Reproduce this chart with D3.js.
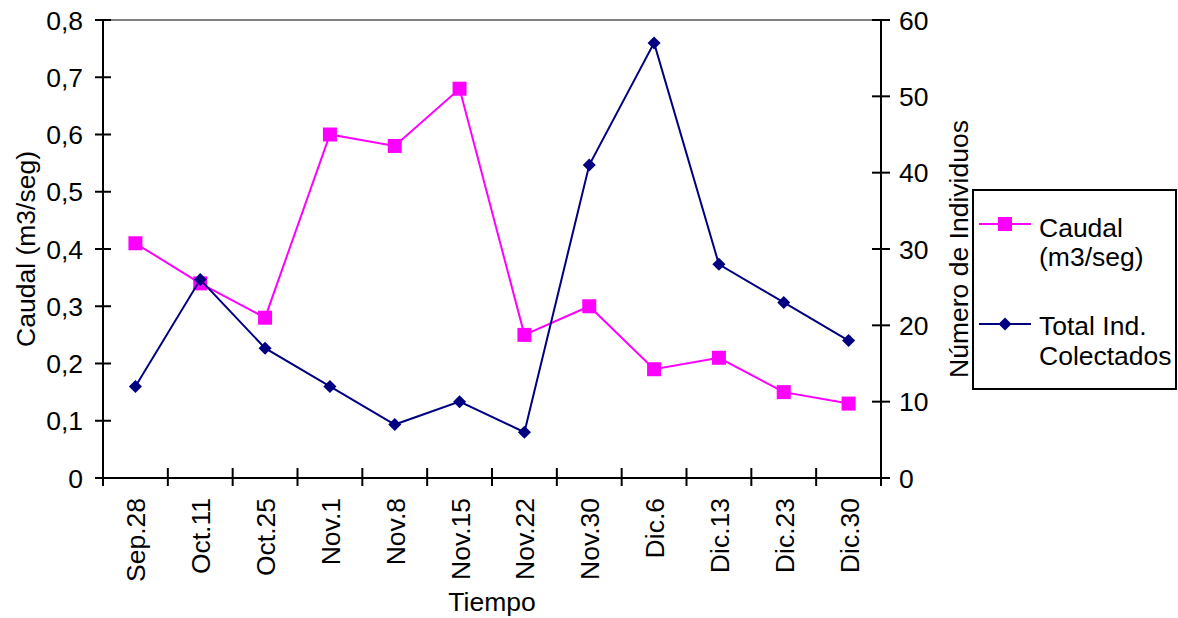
<!DOCTYPE html>
<html><head><meta charset="utf-8">
<script src="https://cdn.jsdelivr.net/npm/d3@7"></script>
<style>body{margin:0;background:#fff}svg{display:block;font-family:"Liberation Sans",Arial,sans-serif}</style>
</head><body>
<svg id="c" width="1178" height="618"></svg>
<script>
const categories = ["Sep.28","Oct.11","Oct.25","Nov.1","Nov.8","Nov.15","Nov.22","Nov.30","Dic.6","Dic.13","Dic.23","Dic.30"];
const caudal = [0.41,0.34,0.28,0.60,0.58,0.68,0.25,0.30,0.19,0.21,0.15,0.13];
const totalInd = [12,26,17,12,7,10,6,41,57,28,23,18];
const leftTicks = [0,0.1,0.2,0.3,0.4,0.5,0.6,0.7,0.8];
const rightTicks = [0,10,20,30,40,50,60];

const FS = 26.5;
const svg = d3.select("#c");
const L = 103, R = 881, T = 20, B = 478;
const x = d3.scaleBand().domain(categories).range([L, R]);
const yL = d3.scaleLinear().domain([0, 0.8]).range([B, T]);
const yR = d3.scaleLinear().domain([0, 60]).range([B, T]);
const fmt = d => d === 0 ? "0" : d3.format(".1f")(d).replace(".", ",");

// top border
svg.append("line").attr("x1", L).attr("x2", R).attr("y1", T).attr("y2", T).attr("stroke", "#808080").attr("stroke-width", 2);

// left axis
const gl = svg.append("g").attr("transform", `translate(${L},0)`);
gl.append("line").attr("y1", T).attr("y2", B).attr("stroke", "#000").attr("stroke-width", 2);
gl.selectAll(".t").data(leftTicks).join("line").attr("x1", -8).attr("x2", 8)
  .attr("y1", d => yL(d)).attr("y2", d => yL(d)).attr("stroke", "#000").attr("stroke-width", 2);
gl.selectAll("text").data(leftTicks).join("text").attr("x", -20).attr("y", d => yL(d)).attr("dy", "0.36em")
  .attr("text-anchor", "end").attr("font-size", FS).text(fmt);

// right axis
const gr = svg.append("g").attr("transform", `translate(${R},0)`);
gr.append("line").attr("y1", T).attr("y2", B).attr("stroke", "#000").attr("stroke-width", 2);
gr.selectAll(".t").data(rightTicks).join("line").attr("x1", -9).attr("x2", 9)
  .attr("y1", d => yR(d)).attr("y2", d => yR(d)).attr("stroke", "#000").attr("stroke-width", 2);
gr.selectAll("text").data(rightTicks).join("text").attr("x", 18).attr("y", d => yR(d)).attr("dy", "0.36em")
  .attr("text-anchor", "start").attr("font-size", FS).text(d => d);

// x axis
const gx = svg.append("g");
gx.append("line").attr("x1", L).attr("x2", R).attr("y1", B).attr("y2", B).attr("stroke", "#000").attr("stroke-width", 2);
const edges = categories.map(c => x(c)).concat([R]);
gx.selectAll(".t").data(edges).join("line").attr("x1", d => d).attr("x2", d => d)
  .attr("y1", B - 10).attr("y2", B + 8).attr("stroke", "#000").attr("stroke-width", 2);
gx.selectAll("text").data(categories).join("text")
  .attr("transform", d => `translate(${x(d) + x.bandwidth()/2 + 10},${B + 20}) rotate(-90)`)
  .attr("text-anchor", "end").attr("font-size", FS).text(d => d);

// axis titles
svg.append("text").attr("transform", `translate(35,${(T+B)/2}) rotate(-90)`).attr("text-anchor", "middle")
  .attr("font-size", FS).text("Caudal (m3/seg)");
svg.append("text").attr("transform", `translate(968,${(T+B)/2}) rotate(-90)`).attr("text-anchor", "middle")
  .attr("font-size", FS).text("Número de Individuos");
svg.append("text").attr("x", (L+R)/2).attr("y", 611).attr("text-anchor", "middle").attr("font-size", FS).text("Tiempo");

const cx = (d, i) => x(categories[i]) + x.bandwidth()/2;
// caudal series
svg.append("path").datum(caudal).attr("fill", "none").attr("stroke", "#FF00FF").attr("stroke-width", 2)
  .attr("d", d3.line().x((d,i) => cx(d,i)).y(d => yL(d)));
svg.selectAll(".sq").data(caudal).join("rect").attr("x", (d,i) => cx(d,i) - 7).attr("y", d => yL(d) - 7)
  .attr("width", 14).attr("height", 14).attr("fill", "#FF00FF");
// total series
svg.append("path").datum(totalInd).attr("fill", "none").attr("stroke", "#000080").attr("stroke-width", 2)
  .attr("d", d3.line().x((d,i) => cx(d,i)).y(d => yR(d)));
svg.selectAll(".di").data(totalInd).join("path").attr("transform", (d,i) => `translate(${cx(d,i)},${yR(d)}) rotate(45)`)
  .attr("d", d3.symbol().type(d3.symbolSquare).size(85)).attr("fill", "#000080");

// legend
const lg = svg.append("g");
lg.append("rect").attr("x", 973).attr("y", 190).attr("width", 203).attr("height", 199)
  .attr("fill", "#fff").attr("stroke", "#000").attr("stroke-width", 2);
lg.append("line").attr("x1", 979).attr("x2", 1031).attr("y1", 224).attr("y2", 224).attr("stroke", "#FF00FF").attr("stroke-width", 2);
lg.append("rect").attr("x", 998).attr("y", 217).attr("width", 14).attr("height", 14).attr("fill", "#FF00FF");
lg.append("text").attr("x", 1039).attr("y", 237).attr("font-size", FS).text("Caudal");
lg.append("text").attr("x", 1039).attr("y", 266).attr("font-size", FS).text("(m3/seg)");
lg.append("line").attr("x1", 979).attr("x2", 1031).attr("y1", 324).attr("y2", 324).attr("stroke", "#000080").attr("stroke-width", 2);
lg.append("path").attr("transform", "translate(1005,324) rotate(45)").attr("d", d3.symbol().type(d3.symbolSquare).size(85)).attr("fill", "#000080");
lg.append("text").attr("x", 1039).attr("y", 335).attr("font-size", FS).text("Total Ind.");
lg.append("text").attr("x", 1039).attr("y", 365).attr("font-size", FS).text("Colectados");
</script>
</body></html>
